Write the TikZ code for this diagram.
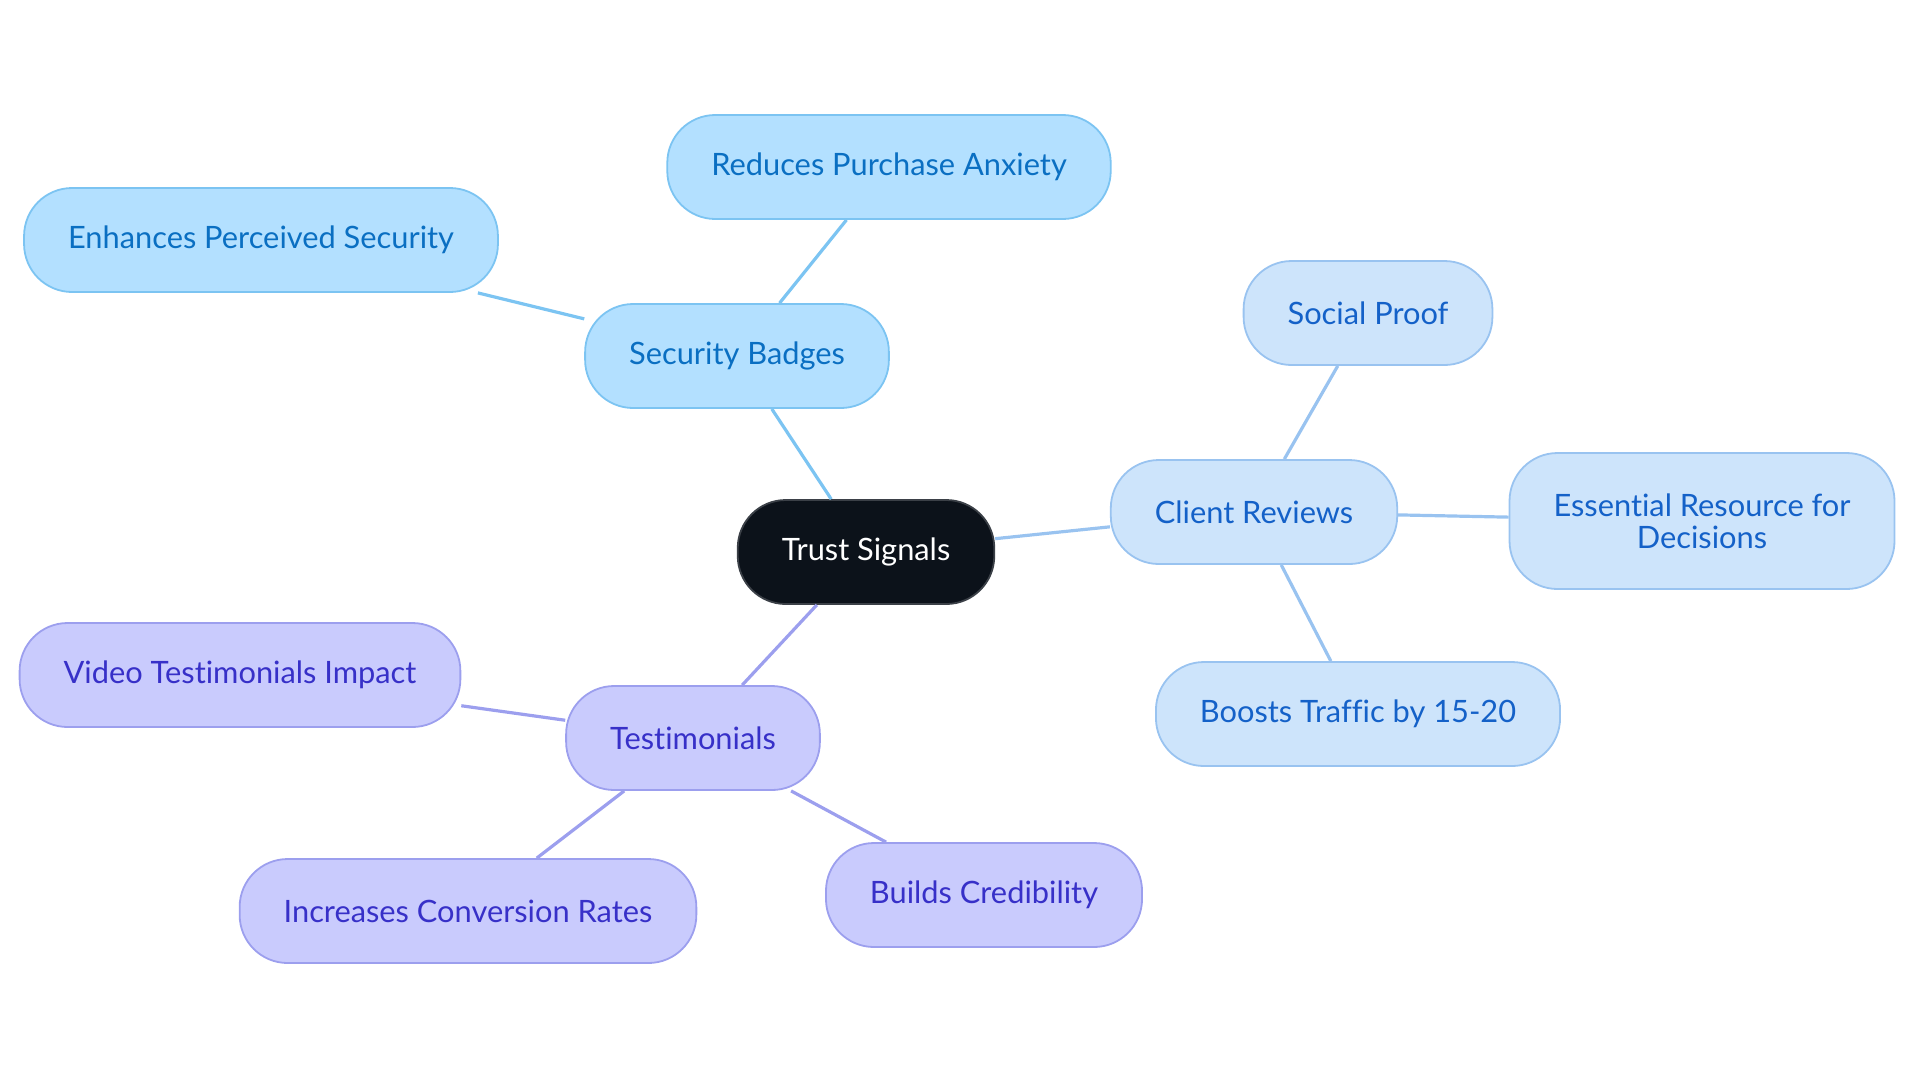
\documentclass[tikz,border=0pt]{standalone}
\usepackage{fontspec}
\setmainfont{Lato}[Ligatures={NoCommon,NoRare,NoDiscretionary}]
\usetikzlibrary{positioning}
\definecolor{rootfill}{HTML}{0C121A}
\definecolor{rootline}{HTML}{3B4047}
\definecolor{secfill}{HTML}{B3E0FF}
\definecolor{secline}{HTML}{7CC4F2}
\definecolor{sectext}{HTML}{0A6FC2}
\definecolor{clifill}{HTML}{CDE4FB}
\definecolor{cliline}{HTML}{99C3F0}
\definecolor{clitext}{HTML}{1461C8}
\definecolor{tesfill}{HTML}{C9CBFD}
\definecolor{tesline}{HTML}{9C9FEE}
\definecolor{testext}{HTML}{3730C8}
\tikzset{
  pill/.style={rounded corners=24pt, minimum height=52pt, inner xsep=22pt,
    line width=0.9pt, align=center, font=\fontsize{15.4}{16}\selectfont},
  rootbox/.style={pill, fill=rootfill, draw=rootline, text=white},
  secbox/.style={pill, fill=secfill, draw=secline, text=sectext},
  clibox/.style={pill, fill=clifill, draw=cliline, text=clitext},
  tesbox/.style={pill, fill=tesfill, draw=tesline, text=testext},
  link/.style={line width=1.6pt},
}
\begin{document}
\begin{tikzpicture}[x=0.5pt, y=-0.5pt]
    % canvas
    \useasboundingbox (0,0) rectangle (1920,1083);
    % root
    \node[rootbox] (trust) at (866,552) {Trust Signals};
    % security branch
    \node[secbox] (badges) at (737,356) {Security Badges};
    \node[secbox] (anxiety) at (889,167) {Reduces Purchase Anxiety};
    \node[secbox] (perceived) at (261,240) {Enhances Perceived Security};
    % client branch
    \node[clibox] (reviews) at (1254,512) {Client Reviews};
    \node[clibox] (proof) at (1368,313) {Social Proof};
    \node[clibox, minimum height=68pt] (resource) at (1702,521) {Essential Resource for\\Decisions};
    \node[clibox] (traffic) at (1358,714) {Boosts Traffic by 15-20};
    % testimonial branch
    \node[tesbox] (testimonials) at (693,738) {Testimonials};
    \node[tesbox] (video) at (240,675) {Video Testimonials Impact};
    \node[tesbox] (conversion) at (468,911) {Increases Conversion Rates};
    \node[tesbox] (credibility) at (984,895) {Builds Credibility};
    % links
    \draw[link, secline] (trust) -- (badges);
    \draw[link, secline] (badges) -- (anxiety);
    \draw[link, secline] (badges) -- (perceived);
    \draw[link, cliline] (trust) -- (reviews);
    \draw[link, cliline] (reviews) -- (proof);
    \draw[link, cliline] (reviews) -- (resource);
    \draw[link, cliline] (reviews) -- (traffic);
    \draw[link, tesline] (trust) -- (testimonials);
    \draw[link, tesline] (testimonials) -- (video);
    \draw[link, tesline] (testimonials) -- (conversion);
    \draw[link, tesline] (testimonials) -- (credibility);
\end{tikzpicture}
\end{document}
